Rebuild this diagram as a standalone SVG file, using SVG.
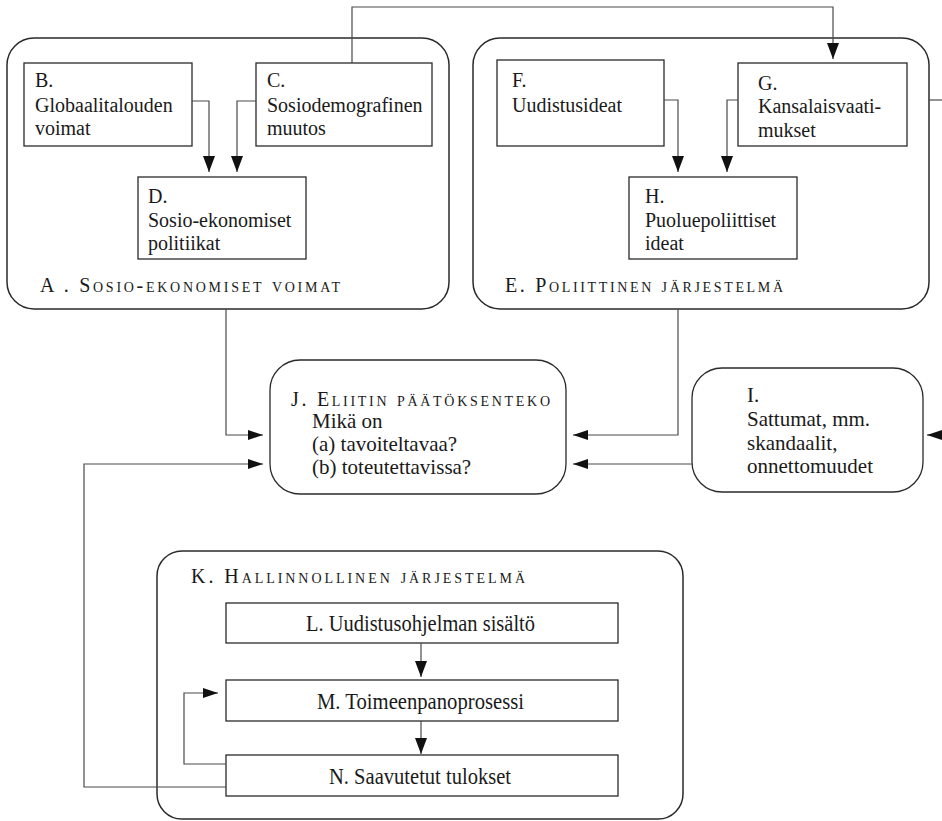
<svg xmlns="http://www.w3.org/2000/svg" width="942" height="821" viewBox="0 0 942 821">
<style>
text{font-family:'Liberation Serif','Times New Roman',serif;fill:#1a1a1a;font-size:20px}
.t21{font-size:21px}
.t23{font-size:23px}
.sc{font-variant:small-caps}
.cont{fill:none;stroke:#2a2a2a;stroke-width:1.5}
.box{fill:#fff;stroke:#2a2a2a;stroke-width:1.3}
.ln{fill:none;stroke:#4a4a4a;stroke-width:1.2}
</style>
<defs>
<marker id="av" markerUnits="userSpaceOnUse" markerWidth="16" markerHeight="12" refX="16" refY="6" orient="auto">
<path d="M0,0 L16,6 L0,12 z" fill="#111"/>
</marker>
<marker id="ah" markerUnits="userSpaceOnUse" markerWidth="15" markerHeight="10" refX="15" refY="5" orient="auto">
<path d="M0,0 L15,5 L0,10 z" fill="#111"/>
</marker>
</defs>

<g id="A">
<rect class="cont" x="7" y="38" width="442" height="271" rx="27"/>
<text x="40" y="292" font-size="23" class="sc" textLength="300" lengthAdjust="spacing">A . Sosio-ekonomiset voimat</text>
</g>
<g id="B">
<rect class="box" x="24" y="63" width="168" height="83"/>
<text x="35" y="87">B.</text><text x="35" y="112">Globaalitalouden</text><text x="35" y="135">voimat</text>
</g>
<g id="C">
<rect class="box" x="256" y="63" width="176" height="83"/>
<text x="267" y="87">C.</text><text x="267" y="112">Sosiodemografinen</text><text x="267" y="135">muutos</text>
</g>
<g id="D">
<rect class="box" x="138" y="177" width="168" height="82"/>
<text x="148" y="203">D.</text><text x="148" y="227">Sosio-ekonomiset</text><text x="148" y="250">politiikat</text>
</g>

<g id="E">
<rect class="cont" x="473" y="38" width="456" height="271" rx="27"/>
<text x="505" y="292" font-size="23" class="sc" textLength="278" lengthAdjust="spacing">E. Poliittinen järjestelmä</text>
</g>
<g id="F">
<rect class="box" x="497" y="60" width="167" height="86"/>
<text x="512" y="87">F.</text><text x="512" y="112">Uudistusideat</text>
</g>
<g id="G">
<rect class="box" x="738" y="63" width="169" height="83"/>
<text x="758" y="90">G.</text><text x="758" y="113">Kansalaisvaati-</text><text x="758" y="137">mukset</text>
</g>
<g id="H">
<rect class="box" x="629" y="177" width="168" height="82"/>
<text x="645" y="203">H.</text><text x="645" y="227">Puoluepoliittiset</text><text x="645" y="250">ideat</text>
</g>

<g id="J">
<rect class="box" x="270" y="360" width="296" height="134" rx="30"/>
<text x="291" y="406" font-size="26.5" class="sc" textLength="259" lengthAdjust="spacing">J. Eliitin päätöksenteko</text>
<text class="t21" x="312" y="428">Mikä on</text>
<text class="t21" x="312" y="451">(a) tavoiteltavaa?</text>
<text class="t21" x="312" y="474">(b) toteutettavissa?</text>
</g>
<g id="I">
<rect class="box" x="692" y="368" width="231" height="124" rx="30"/>
<text class="t21" x="747" y="402">I.</text>
<text class="t21" x="747" y="426">Sattumat, mm.</text>
<text class="t21" x="747" y="450">skandaalit,</text>
<text class="t21" x="747" y="473">onnettomuudet</text>
</g>

<g id="K">
<rect class="cont" x="157" y="551" width="526" height="268" rx="25"/>
<text x="191" y="583" font-size="25" class="sc" textLength="334" lengthAdjust="spacing">K. Hallinnollinen järjestelmä</text>
</g>
<g id="L">
<rect class="box" x="226" y="603" width="392" height="40"/>
<text class="t23" x="306" y="631" textLength="229" lengthAdjust="spacingAndGlyphs">L. Uudistusohjelman sisältö</text>
</g>
<g id="M">
<rect class="box" x="226" y="680" width="392" height="41"/>
<text class="t23" x="317" y="709" textLength="207" lengthAdjust="spacingAndGlyphs">M. Toimeenpanoprosessi</text>
</g>
<g id="N">
<rect class="box" x="226" y="755" width="392" height="41"/>
<text class="t23" x="329" y="784" textLength="182" lengthAdjust="spacingAndGlyphs">N. Saavutetut tulokset</text>
</g>

<g id="connectors">
<path class="ln" d="M192,101 H209 V172" marker-end="url(#av)"/>
<path class="ln" d="M256,101 H237 V172" marker-end="url(#av)"/>
<path class="ln" d="M664,100 H678 V172" marker-end="url(#av)"/>
<path class="ln" d="M738,100 H727 V172" marker-end="url(#av)"/>
<path class="ln" d="M352,63 V7 H833 V59" marker-end="url(#av)"/>
<path class="ln" d="M929,100 H942"/>
<path class="ln" d="M945,435 H927" marker-end="url(#ah)"/>
<path class="ln" d="M226,309 V435 H263" marker-end="url(#ah)"/>
<path class="ln" d="M678,309 V435 H573" marker-end="url(#ah)"/>
<path class="ln" d="M692,464 H573" marker-end="url(#ah)"/>
<path class="ln" d="M226,787 H84 V464 H263" marker-end="url(#ah)"/>
<path class="ln" d="M226,764 H184 V693 H218" marker-end="url(#ah)"/>
<path class="ln" d="M421,643 V677" marker-end="url(#av)"/>
<path class="ln" d="M421,721 V754" marker-end="url(#av)"/>
</g>
</svg>
